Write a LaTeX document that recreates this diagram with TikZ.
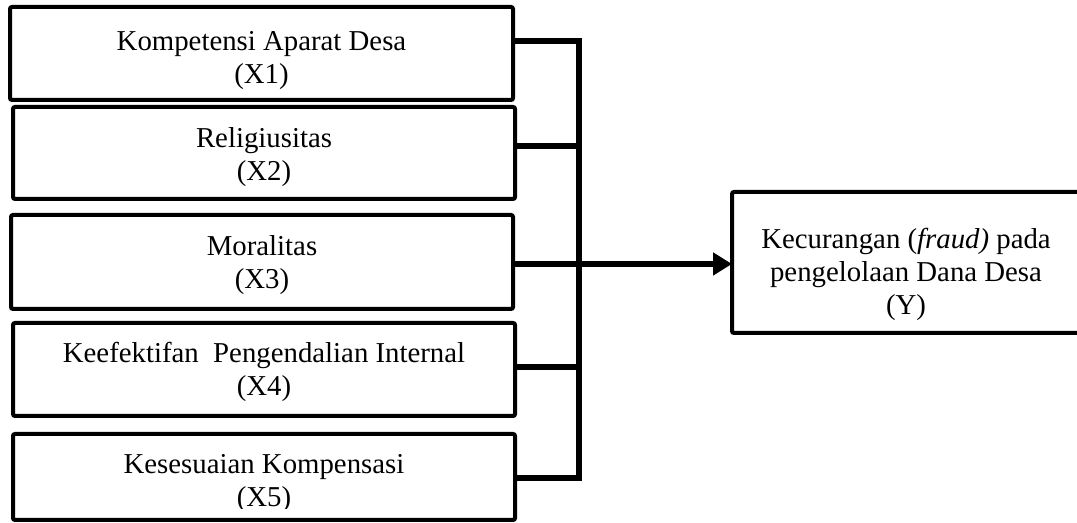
\documentclass[tikz,border=0pt]{standalone}
\usepackage{fontspec}
\setmainfont{Liberation Serif}
\usetikzlibrary{positioning,arrows.meta}

\begin{document}
\begin{tikzpicture}[x=0.5pt, y=-0.5pt, box/.style={rectangle, draw, line width=2pt, rounded corners=1pt, outer sep=0pt, inner sep=0pt}, txt/.style={align=center, inner sep=0pt, font=\fontsize{14.4pt}{16.5pt}\selectfont}, link/.style={line width=3pt}]
      \useasboundingbox (0,0) rectangle (1077,523);

      \node [box, minimum width=251.5pt, minimum height=46.5pt] (x1) at (261.5,53.5) {};

      \node [box, minimum width=251pt, minimum height=46pt] (x2) at (264,153) {};

      \node [box, minimum width=251pt, minimum height=47pt] (x3) at (262,262) {};

      \node [box, minimum width=251pt, minimum height=46.5pt] (x4) at (264,369.5) {};

      \node [box, minimum width=251pt, minimum height=43pt] (x5) at (264,477) {};

      \node [box, minimum width=174pt, minimum height=70.5pt] (y) at (906,262.5) {};

      \node [txt, below = 10pt of x1.north] (t1) {\strut Kompetensi Aparat Desa\\ (X1)};

      \node [txt, below = 8.45pt of x2.north] (t2) {\strut Religiusitas\\ (X2)};

      \node [txt, below = 8.45pt of x3.north] (t3) {\strut Moralitas\\ (X3)};

      \node [txt, below = 7.95pt of x4.north] (t4) {\strut Keefektifan\ \ Pengendalian Internal\\ (X4)};

      % last label is cut off by its box, as in the source
      \begin{scope}
        \clip (x5.north west) rectangle ([yshift=5.5pt]x5.south east);
        \node [txt, below = 7.95pt of x5.north] (t5) {\strut Kesesuaian Kompensasi\\ (X5)};
      \end{scope}

      \node [txt, below = 16.45pt of y.north] (ty) {\strut Kecurangan (\textit{fraud)} pada\\ pengelolaan Dana Desa\\ (Y)};

      \coordinate (j1) at (579,41);
      \coordinate (j2) at (579,146);
      \coordinate (j3) at (579,264);
      \coordinate (j4) at (579,367);
      \coordinate (j5) at (579,478);

      \draw[link] (j1 -| x1.east) -- (j1) -- (j5) -- (j5 -| x5.east);

      \draw[link] (j2 -| x2.east) -- (j2);

      \draw[link] (j4 -| x4.east) -- (j4);

      \draw[link, -{Triangle[length=9.5pt, width=11pt]}] (j3 -| x3.east) -- (j3 -| y.west);
    \end{tikzpicture}
\end{document}
